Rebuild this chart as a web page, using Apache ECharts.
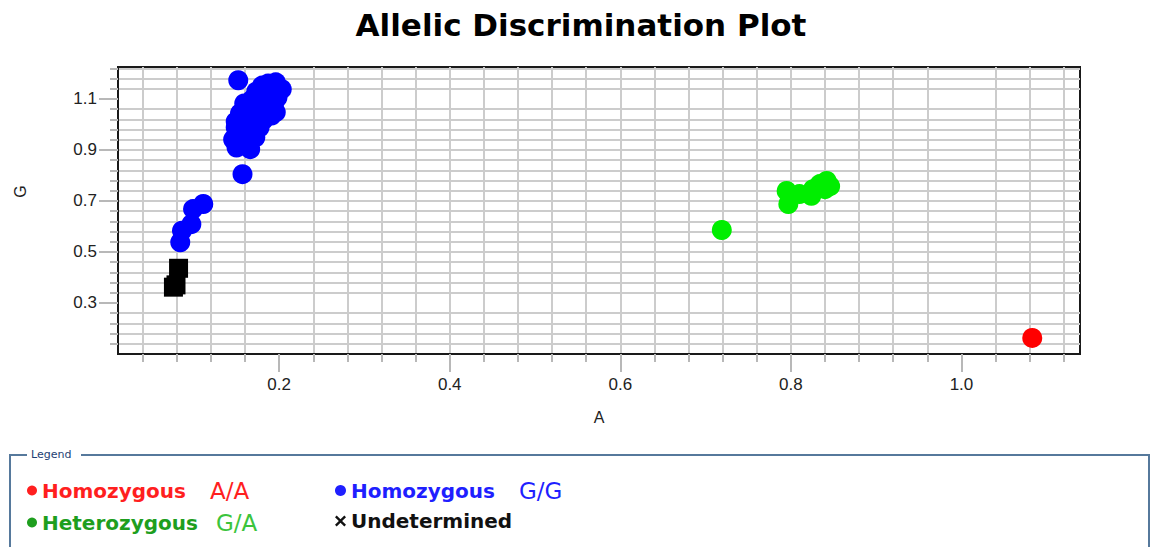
<!DOCTYPE html>
<html>

<head>
	<meta charset="UTF-8">
	<title>Allelic Discrimination Plot</title>
	<style>
		html, body {
			margin: 0;
			padding: 0;
			background: #fff;
		}
		#chart1 {
			width: 1162px;
			height: 547px;
		}
	</style>
	<script src="https://cdn.jsdelivr.net/npm/echarts@6/dist/echarts.min.js"></script>
</head>

<body>
	<div id="chart1"></div>
	<script>
		// [A signal, G signal] per well
		var homAA = [[1.083, 0.163]];
		var homGG = [
			[0.152, 1.173], [0.157, 0.805],
			[0.111, 0.688], [0.099, 0.668], [0.097, 0.609], [0.086, 0.583], [0.084, 0.538],
			[0.150, 0.909], [0.166, 0.903], [0.146, 0.941], [0.152, 0.972], [0.161, 0.957],
			[0.172, 0.949], [0.149, 1.011], [0.159, 1.004], [0.168, 0.996], [0.177, 0.988],
			[0.154, 1.043], [0.163, 1.050], [0.173, 1.035], [0.182, 1.019], [0.191, 1.035],
			[0.159, 1.082], [0.168, 1.097], [0.177, 1.082], [0.187, 1.066], [0.194, 1.082],
			[0.173, 1.128], [0.182, 1.121], [0.191, 1.113], [0.196, 1.144], [0.187, 1.160],
			[0.180, 1.152], [0.198, 1.105], [0.163, 1.027], [0.149, 0.988], [0.175, 1.058],
			[0.184, 1.097], [0.166, 1.066], [0.189, 1.136], [0.196, 1.165], [0.203, 1.138],
			[0.196, 1.048]
		];
		var hetGA = [
			[0.719, 0.586],
			[0.795, 0.739], [0.797, 0.688], [0.799, 0.715], [0.810, 0.727], [0.824, 0.720],
			[0.826, 0.746], [0.834, 0.766], [0.842, 0.778], [0.840, 0.746], [0.846, 0.758]
		];
		var undet = [[0.082, 0.436], [0.079, 0.371], [0.076, 0.362]];

		var xLabels = [0.2, 0.4, 0.6, 0.8, 1.0];
		var yLabels = [0.3, 0.5, 0.7, 0.9, 1.1];

		var names = ['Homozygous A/A', 'Homozygous G/G', 'Heterozygous G/A', 'Undetermined'];
		var richKey = {
			'Homozygous A/A': 'aa',
			'Homozygous G/G': 'gg',
			'Heterozygous G/A': 'ga',
			'Undetermined': 'un'
		};
		var xIcon = 'path://M0,1.5 L1.5,0 L5,3.5 L8.5,0 L10,1.5 L6.5,5 L10,8.5 L8.5,10 L5,6.5 L1.5,10 L0,8.5 L3.5,5 Z';

		var gridLine = { color: '#cccccc', width: 2 };
		var tickLine = { color: '#b8b8b8', width: 2 };
		var labelFont = { fontFamily: 'Liberation Sans', fontSize: 17, color: '#222' };

		function legendText(name) {
			var k = richKey[name];
			var i = name.indexOf(' ');
			if (i < 0) return '{' + k + '1|' + name + '}';
			return '{' + k + '1|' + name.slice(0, i) + '}{' + k + '2|' + name.slice(i + 1) + '}';
		}

		var legendRich = {
			aa1: { color: '#ff1f1f', fontWeight: 'bold', fontSize: 20, fontFamily: 'DejaVu Sans' },
			aa2: { color: '#ff1f1f', fontSize: 23, fontFamily: 'DejaVu Sans', padding: [0, 0, 0, 24] },
			gg1: { color: '#1f1fff', fontWeight: 'bold', fontSize: 20, fontFamily: 'DejaVu Sans' },
			gg2: { color: '#1f1fff', fontSize: 23, fontFamily: 'DejaVu Sans', padding: [0, 0, 0, 24] },
			ga1: { color: '#1e9e1e', fontWeight: 'bold', fontSize: 20, fontFamily: 'DejaVu Sans' },
			ga2: { color: '#3cc43c', fontSize: 23, fontFamily: 'DejaVu Sans', padding: [0, 0, 0, 18] },
			un1: { color: '#111', fontWeight: 'bold', fontSize: 20, fontFamily: 'DejaVu Sans' }
		};

		var myChart = echarts.init(document.getElementById('chart1'), null, { renderer: 'svg' });
		myChart.setOption({
			animation: false,
			backgroundColor: '#fff',
			title: {
				text: 'Allelic Discrimination Plot',
				left: 'center',
				top: 4,
				textStyle: { fontFamily: 'DejaVu Sans', fontWeight: 'bold', fontSize: 31, color: '#000' }
			},
			grid: {
				left: 118,
				top: 67,
				width: 962,
				height: 287,
				show: true,
				borderColor: '#1a1a1a',
				borderWidth: 2,
				backgroundColor: '#fff'
			},
			legend: [
				{
					data: [
						{ name: names[0], itemStyle: { color: '#ff1f1f' } },
						{ name: names[2], itemStyle: { color: '#1e9e1e' } }
					],
					orient: 'vertical',
					left: 22,
					top: 474,
					itemGap: 9,
					itemWidth: 10,
					itemHeight: 10,
					formatter: legendText,
					textStyle: { rich: legendRich }
				},
				{
					data: [
						{ name: names[1], itemStyle: { color: '#1f1fff' } },
						{ name: names[3], icon: xIcon, itemStyle: { color: '#111' } }
					],
					orient: 'vertical',
					left: 330,
					top: 474,
					itemGap: 9,
					itemWidth: 11,
					itemHeight: 11,
					formatter: legendText,
					textStyle: { rich: legendRich }
				}
			],
			graphic: [
				{
					type: 'polyline',
					shape: { points: [[10, 547], [10, 455], [27, 455]] },
					style: { stroke: '#56799c', lineWidth: 2, fill: null }
				},
				{
					type: 'text',
					left: 31,
					top: 449,
					style: { text: 'Legend', fill: '#1e3f73', font: '11px "DejaVu Sans"' }
				},
				{
					type: 'polyline',
					shape: { points: [[81, 455], [1149, 455], [1149, 547]] },
					style: { stroke: '#56799c', lineWidth: 2, fill: null }
				}
			],
			xAxis: {
				type: 'value',
				min: 0.011,
				max: 1.139,
				splitNumber: 5,
				minInterval: 0.2,
				maxInterval: 0.2,
				name: 'A',
				nameLocation: 'middle',
				nameGap: 55,
				nameTextStyle: { fontFamily: 'Liberation Sans', fontSize: 16, color: '#222' },
				axisLine: { show: true, lineStyle: { color: '#1a1a1a', width: 2 } },
				axisTick: { show: true, length: 18, customValues: xLabels, lineStyle: tickLine },
				minorTick: { show: true, splitNumber: 5, length: 8, lineStyle: tickLine },
				axisLabel: {
					customValues: xLabels,
					margin: 22,
					fontFamily: labelFont.fontFamily,
					fontSize: labelFont.fontSize,
					color: labelFont.color,
					formatter: function (v) { return v.toFixed(1); }
				},
				splitLine: { show: true, showMinLine: false, showMaxLine: false, lineStyle: gridLine },
				minorSplitLine: { show: true, lineStyle: gridLine }
			},
			yAxis: {
				type: 'value',
				min: 0.1,
				max: 1.225,
				interval: 0.2,
				name: 'G',
				nameLocation: 'middle',
				nameGap: 90,
				nameTextStyle: { fontFamily: 'Liberation Sans', fontSize: 16, color: '#222', padding: [0, 0, 0, 38] },
				axisLine: { show: true, lineStyle: { color: '#1a1a1a', width: 2 } },
				axisTick: { show: true, length: 19, customValues: yLabels, lineStyle: tickLine },
				minorTick: { show: true, splitNumber: 5, length: 8, lineStyle: tickLine },
				axisLabel: {
					customValues: yLabels,
					margin: 21,
					fontFamily: labelFont.fontFamily,
					fontSize: labelFont.fontSize,
					color: labelFont.color,
					formatter: function (v) { return v.toFixed(1); }
				},
				splitLine: { show: true, showMinLine: false, showMaxLine: false, lineStyle: gridLine },
				minorSplitLine: { show: true, lineStyle: gridLine }
			},
			series: [
				{
					name: names[0],
					type: 'scatter',
					data: homAA,
					symbol: 'circle',
					symbolSize: 20,
					itemStyle: { color: '#ff0000', opacity: 1 }
				},
				{
					name: names[1],
					type: 'scatter',
					data: homGG,
					symbol: 'circle',
					symbolSize: 20,
					itemStyle: { color: '#0000ff', opacity: 1 }
				},
				{
					name: names[2],
					type: 'scatter',
					data: hetGA,
					symbol: 'circle',
					symbolSize: 20,
					itemStyle: { color: '#00ee00', opacity: 1 }
				},
				{
					name: names[3],
					type: 'scatter',
					data: undet,
					symbol: 'rect',
					symbolSize: 19,
					itemStyle: { color: '#000000', opacity: 1 }
				}
			]
		});
	</script>
</body>

</html>
